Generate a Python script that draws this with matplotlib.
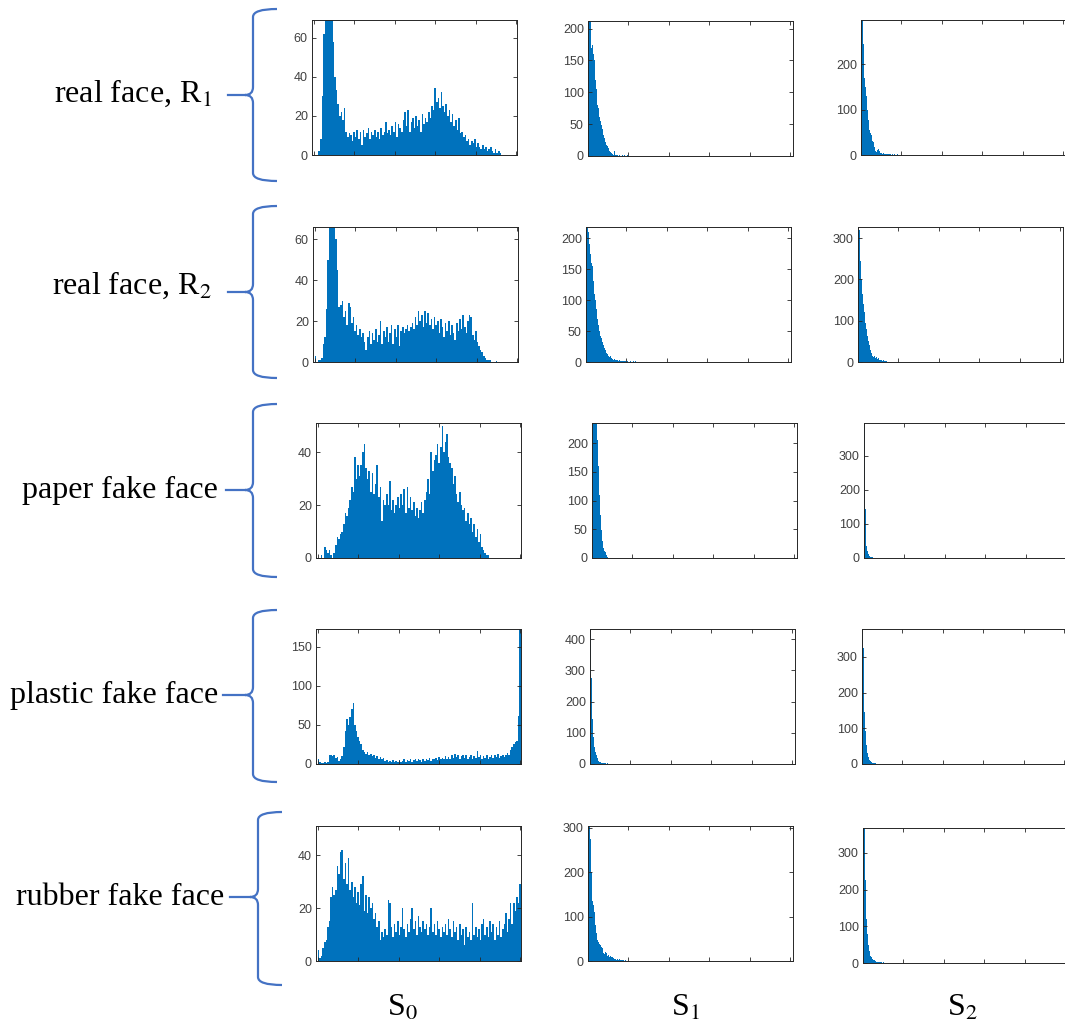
import numpy as np
import matplotlib
matplotlib.use('Agg')
import matplotlib.pyplot as plt
from matplotlib.path import Path
from matplotlib.patches import PathPatch

# ---- data: histogram counts ----
# S0 panels: 128 bins of width 2 over intensity 0..256
s0_real1 = [0, 0, 0, 2, 8, 30, 62, 90, 110, 100, 85, 72, 58, 40, 33, 26,
            20, 22, 18, 24, 12, 9, 11, 10, 7, 12, 9, 13, 8, 12, 5, 13,
            9, 11, 14, 8, 12, 10, 13, 9, 12, 8, 14, 10, 12, 17, 11, 13,
            10, 15, 12, 17, 9, 16, 14, 12, 18, 22, 15, 23, 12, 17, 19, 14,
            20, 15, 18, 12, 21, 16, 19, 17, 22, 19, 25, 23, 34, 27, 29, 24,
            32, 25, 22, 26, 20, 23, 17, 21, 15, 18, 13, 19, 11, 12, 9, 10,
            7, 8, 5, 7, 6, 8, 4, 6, 4, 3, 5, 3, 4, 2, 3, 4,
            2, 1, 3, 1, 2, 1, 0, 0, 0, 0, 0, 0, 0, 0, 0, 0]
s0_real2 = [3, 0, 1, 1, 2, 9, 12, 26, 50, 75, 90, 85, 70, 60, 45, 27,
            28, 30, 22, 25, 18, 29, 27, 19, 22, 15, 18, 13, 16, 12, 14, 10,
            6, 12, 15, 9, 14, 11, 16, 10, 13, 20, 9, 15, 12, 17, 10, 14,
            18, 9, 16, 12, 18, 8, 15, 17, 14, 16, 18, 15, 17, 19, 16, 22,
            18, 25, 20, 23, 17, 25, 19, 24, 18, 21, 16, 22, 18, 20, 14, 21,
            17, 12, 19, 15, 20, 13, 18, 14, 11, 19, 15, 21, 16, 23, 17, 14,
            20, 23, 22, 13, 11, 15, 10, 8, 6, 5, 3, 2, 1, 1, 1, 0,
            0, 0, 0.5, 0, 0, 0, 0, 0, 0, 0, 0, 0, 0, 0, 0, 0]
s0_paper = [0, 0, 1, 0, 4, 3, 2, 3, 1, 0, 2, 5, 8, 7, 9, 10,
            13, 17, 16, 19, 22, 27, 25, 38, 30, 35, 31, 35, 40, 43, 34, 30,
            33, 25, 32, 24, 28, 35, 23, 27, 14, 22, 20, 24, 20, 29, 18, 22,
            17, 20, 23, 19, 24, 20, 26, 17, 27, 19, 23, 18, 21, 16, 19, 15,
            18, 21, 17, 22, 25, 30, 24, 40, 33, 37, 39, 43, 36, 42, 50, 40,
            44, 47, 38, 36, 34, 28, 31, 24, 21, 25, 20, 18, 19, 14, 17, 13,
            15, 10, 13, 8, 11, 6, 9, 4, 3, 2, 1, 1, 0, 0, 0, 0,
            0, 0, 0, 0, 0, 0, 0, 0, 0, 0, 0, 0, 0, 0, 0, 0]
s0_plastic = [6, 2, 1, 1, 2, 1, 3, 11, 12, 10, 11, 8, 9, 4, 6, 10,
              22, 42, 58, 50, 60, 70, 78, 50, 42, 35, 30, 25, 18, 15, 13, 16,
              11, 13, 10, 11, 8, 10, 7, 9, 6, 8, 4, 5, 3, 4, 2, 5,
              3, 4, 2, 5, 3, 4, 6, 3, 5, 4, 6, 3, 5, 7, 4, 6,
              5, 3, 7, 4, 6, 5, 8, 4, 7, 6, 8, 5, 9, 6, 8, 7,
              10, 6, 9, 7, 11, 8, 13, 9, 12, 7, 10, 12, 8, 11, 6, 9,
              12, 7, 10, 8, 17, 9, 11, 7, 10, 8, 12, 7, 9, 11, 8, 12,
              9, 13, 8, 10, 12, 9, 11, 14, 12, 18, 22, 26, 28, 30, 62, 180]
s0_rubber = [4, 1, 2, 5, 7, 8, 13, 15, 24, 28, 25, 27, 36, 33, 41, 42,
             31, 37, 29, 39, 27, 30, 24, 28, 22, 26, 21, 29, 32, 19, 25, 18,
             24, 20, 22, 16, 18, 13, 15, 8, 11, 9, 12, 10, 23, 22, 13, 9,
             14, 11, 15, 10, 13, 20, 12, 9, 14, 11, 16, 20, 12, 15, 10, 17,
             13, 11, 15, 12, 14, 10, 13, 20, 11, 14, 10, 15, 12, 9, 13, 11,
             14, 10, 16, 12, 9, 15, 11, 13, 8, 14, 10, 12, 6, 13, 9, 11,
             8, 22, 10, 13, 9, 12, 8, 14, 16, 10, 13, 9, 15, 11, 14, 8,
             13, 10, 15, 9, 12, 14, 18, 11, 16, 22, 14, 22, 19, 24, 22, 29]

# S1 / S2 panels: bins of width 0.005 starting at 0
s1_real1 = [260, 240, 215, 170, 175, 160, 150, 120, 105, 80, 75, 62, 55, 48, 42, 33,
            28, 22, 18, 15, 12, 8, 6, 4, 3, 2, 8, 2, 1, 1, 0, 1, 0, 0, 1, 0, 1, 0, 0, 1]
s2_real1 = [330, 300, 245, 170, 150, 130, 100, 78, 55, 48, 44, 32, 28, 18, 9, 7,
            12, 13, 9, 5, 4, 3, 4, 2, 3, 2, 3, 2, 2, 3, 1, 2, 1, 2, 1, 1, 2, 1, 1, 0,
            1, 0, 1, 1, 0, 1, 0, 0, 1, 0, 1, 0, 0, 1, 0, 0, 1, 0, 1, 0]
s1_real2 = [230, 225, 210, 190, 175, 160, 155, 130, 110, 100, 85, 70, 60, 50, 42, 38,
            32, 28, 22, 20, 15, 13, 10, 8, 9, 6, 5, 4, 5, 3, 4, 3, 2, 3, 2, 1, 2, 1, 1, 1,
            0, 1, 0, 1, 0, 0, 1, 0, 1, 0]
s2_real2 = [340, 320, 245, 200, 165, 140, 120, 95, 80, 62, 50, 40, 30, 22, 15, 12,
            14, 10, 12, 8, 10, 6, 5, 4, 3, 4, 2, 3, 2, 1, 1, 0, 1, 0, 1]
s1_paper = [280, 270, 260, 250, 240, 205, 160, 110, 75, 48, 30, 17, 13, 10, 5, 2, 0]
s2_paper = [420, 145, 35, 20, 12, 7, 4, 3, 2, 1]
s1_plastic = [450, 275, 145, 88, 56, 40, 28, 18, 10, 7, 5, 4, 3, 2, 3, 2, 1, 2, 1, 1, 1, 1, 0, 1]
s2_plastic = [390, 325, 145, 92, 52, 30, 20, 12, 8, 5, 4, 3, 2, 2, 1]
s1_rubber = [320, 310, 275, 200, 135, 125, 110, 80, 62, 48, 42, 38, 35, 32, 30, 18,
             15, 20, 18, 12, 14, 10, 11, 8, 10, 6, 4, 5, 3, 4, 3, 5, 2, 3, 2, 2, 1, 2, 1, 1,
             1, 0, 1]
s2_rubber = [380, 370, 225, 120, 80, 50, 32, 20, 15, 12, 8, 7, 5, 4, 3, 2, 3, 2, 2, 1, 2, 1]

row_labels = ['real face, R$_1$', 'real face, R$_2$', 'paper fake face',
              'plastic fake face', 'rubber fake face']
col_labels = ['S$_0$', 'S$_1$', 'S$_2$']

panels = [[s0_real1, s1_real1, s2_real1],
          [s0_real2, s1_real2, s2_real2],
          [s0_paper, s1_paper, s2_paper],
          [s0_plastic, s1_plastic, s2_plastic],
          [s0_rubber, s1_rubber, s2_rubber]]
ymax = [[69, 212, 298], [66, 218, 327], [51, 235, 397], [173, 432, 378], [51, 304, 368]]
ystep = [[20, 50, 100], [20, 50, 100], [20, 50, 100], [50, 100, 100], [20, 100, 100]]

# ---- layout (pixels) ----
W, H = 1065, 1028
ax_lefts = [[312, 588, 861], [313, 586, 858], [316, 592, 864], [316, 590, 862], [316, 588, 863]]
ax_tops = [[20, 21, 20], [227, 227, 227], [423, 423, 423], [629, 629, 629], [826, 826, 828]]
ax_w, ax_h = 205, 135
bar_color = '#0072BD'
axis_color = '#262626'

plt.rcParams['mathtext.fontset'] = 'stix'
fig = plt.figure(figsize=(W / 100, H / 100), dpi=100)

for r in range(5):
    for c in range(3):
        l, t = ax_lefts[r][c], ax_tops[r][c]
        ax = fig.add_axes([l / W, 1 - (t + ax_h) / H, ax_w / W, ax_h / H])
        counts = np.array(panels[r][c], dtype=float)
        if c == 0:
            edges = np.arange(len(counts) + 1) * 2.0
            ax.set_xlim(-2, 256)
            ax.set_xticks([0, 51, 102, 153, 204, 255])
        else:
            edges = np.arange(len(counts) + 1) * 0.005
            ax.set_xlim(0, 1.013)
            ax.set_xticks([0, 0.2, 0.4, 0.6, 0.8, 1.0])
        ax.stairs(counts, edges, fill=True, color=bar_color, linewidth=0)
        ax.set_ylim(0, ymax[r][c])
        ax.set_yticks(np.arange(0, ymax[r][c], ystep[r][c]))
        # last column runs off the right edge of the page
        ax.tick_params(direction='in', top=True, right=(c < 2), length=3, width=0.6,
                       colors=axis_color, labelbottom=False, labelsize=9, pad=3)
        for lab in ax.get_yticklabels():
            lab.set_fontfamily('Liberation Sans')
            lab.set_color('#404040')
        for sp in ax.spines.values():
            sp.set_color(axis_color)
            sp.set_linewidth(0.7)

# ---- row labels with braces ----
label_right = [212, 212, 218, 218, 224]
label_base = [102, 294, 498, 703, 905]
brace_x = [253, 253, 253, 253, 258]
brace_top = [9, 206, 404, 610, 812]
brace_bot = [181, 378, 577, 782, 985]
brace_mid = [95, 292, 490, 695, 897]
brace_tip = [228, 228, 226, 223, 230]


def fx(x):
    return x / W


def fy(y):
    return 1 - y / H


for r in range(5):
    fig.text(fx(label_right[r]), fy(label_base[r]), row_labels[r], ha='right', va='baseline',
             fontsize=23, fontfamily='Liberation Serif')
    xv, yt, yb, ym, xt = brace_x[r], brace_top[r], brace_bot[r], brace_mid[r], brace_tip[r]
    xe = xv + 24
    pts = [(xe, yt), (xv, yt), (xv, yt + 8),
           (xv, ym - 8), (xv, ym), (xv - 8, ym),
           (xv, ym), (xv, ym + 8),
           (xv, yb - 8), (xv, yb), (xe, yb)]
    codes = [Path.MOVETO, Path.CURVE3, Path.CURVE3,
             Path.LINETO, Path.CURVE3, Path.CURVE3,
             Path.CURVE3, Path.CURVE3,
             Path.LINETO, Path.CURVE3, Path.CURVE3]
    verts = [(fx(x), fy(y)) for x, y in pts]
    fig.add_artist(PathPatch(Path(verts, codes), transform=fig.transFigure,
                             facecolor='none', edgecolor='#4472C4', linewidth=1.6))
    fig.add_artist(plt.Line2D([fx(xt), fx(xv - 8)], [fy(ym), fy(ym)],
                              transform=fig.transFigure, color='#4472C4', linewidth=1.6))

# ---- column labels ----
col_x = [402, 686, 962]
for c in range(3):
    fig.text(fx(col_x[c]), fy(1016), col_labels[c], ha='center', va='baseline',
             fontsize=23, fontfamily='Liberation Serif')

plt.savefig('out.png', dpi=100)
